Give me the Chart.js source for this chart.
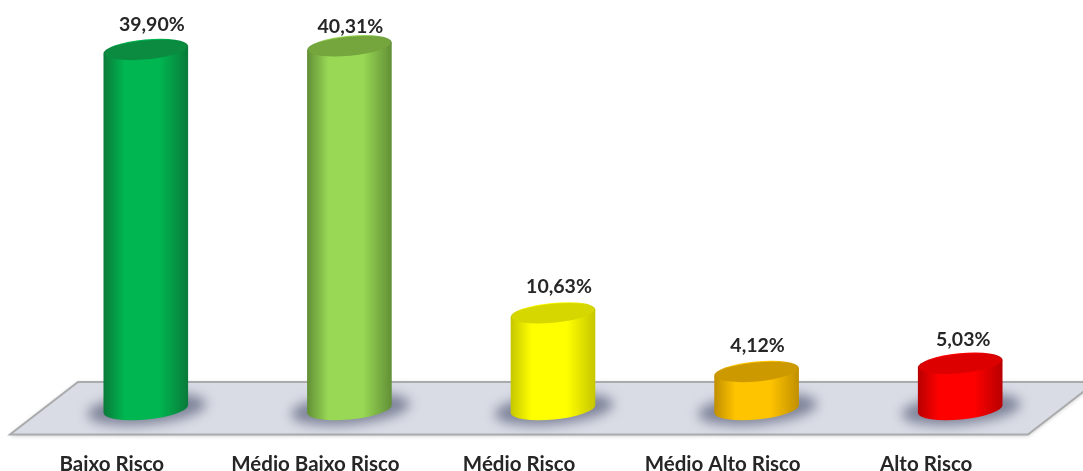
<!DOCTYPE html>
<html>
<head>
<meta charset="utf-8">
<title>Risco</title>
<script src="https://cdn.jsdelivr.net/npm/chart.js@4"></script>
<style>
    body { margin: 0; background: #fff; }
    canvas { display: block; }
</style>
</head>
<body>
<canvas id="riskChart" width="1083" height="471"></canvas>
<script>
// Categorias e valores (%)
var categories = ['Baixo Risco', 'Médio Baixo Risco', 'Médio Risco', 'Médio Alto Risco', 'Alto Risco'];
var values = [39.90, 40.31, 10.63, 4.12, 5.03];
var valueLabels = ['39,90%', '40,31%', '10,63%', '4,12%', '5,03%'];

// Cores de cada cilindro
var midColors = ['#00b650', '#98d855', '#ffff00', '#ffc400', '#ff0000'];
var edgeColors = ['#0a7a3a', '#628f36', '#c6c600', '#c08f00', '#b80000'];
var topColors = ['#0a8b40', '#75a53d', '#d6d600', '#cc9a00', '#dc0000'];

// Deslocamento de cada rótulo em relação ao topo do cilindro
var labelDx = [6, 1, 6, 1, 3];
var labelDy = [-25, -19, -27, -26, -24];

var TILT = -5.4 * Math.PI / 180;
var RY = 10.5;

// Barra desenhada como cilindro inclinado
class CylinderElement extends Chart.BarElement {
    draw(ctx) {
        var p = this.getProps(['x', 'y', 'base', 'width']);
        var i = this.$context.index;
        var rx = p.width / 2;
        var dx = rx * Math.cos(TILT);
        var dy = rx * Math.sin(TILT);

        ctx.save();

        // sombra no piso
        ctx.save();
        ctx.filter = 'blur(6px)';
        ctx.fillStyle = 'rgba(105,110,135,0.8)';
        ctx.beginPath();
        ctx.ellipse(p.x + 1, p.base, rx + 17, RY + 5, TILT, 0, Math.PI * 2);
        ctx.fill();
        ctx.restore();

        // corpo
        var grad = ctx.createLinearGradient(p.x - dx, 0, p.x + dx, 0);
        grad.addColorStop(0, edgeColors[i]);
        grad.addColorStop(0.25, midColors[i]);
        grad.addColorStop(0.66, midColors[i]);
        grad.addColorStop(1, edgeColors[i]);
        ctx.fillStyle = grad;
        ctx.beginPath();
        ctx.moveTo(p.x - dx, p.y - dy);
        ctx.lineTo(p.x - dx, p.base - dy);
        ctx.ellipse(p.x, p.base, rx, RY, TILT, Math.PI, 0, true);
        ctx.lineTo(p.x + dx, p.y + dy);
        ctx.closePath();
        ctx.fill();
        ctx.beginPath();
        ctx.ellipse(p.x, p.y, rx, RY, TILT, 0, Math.PI * 2);
        ctx.fill();

        // tampa
        ctx.fillStyle = topColors[i];
        ctx.beginPath();
        ctx.ellipse(p.x, p.y, rx - 1, RY - 1, TILT, 0, Math.PI * 2);
        ctx.fill();

        ctx.restore();
    }
}
CylinderElement.id = 'cylinder';
CylinderElement.defaults = Chart.BarElement.defaults;

class CylinderController extends Chart.BarController {}
CylinderController.id = 'cylinder';
CylinderController.defaults = Object.assign({}, Chart.BarController.defaults, { dataElementType: 'cylinder' });
CylinderController.overrides = Chart.BarController.overrides;

Chart.register(CylinderElement, CylinderController);

// Piso cinza por baixo das barras
var floorPlugin = {
    id: 'floor',
    beforeDatasetsDraw: function (chart) {
        var ctx = chart.ctx;
        var a = chart.chartArea;
        ctx.save();
        ctx.beginPath();
        ctx.moveTo(a.left + 34, a.bottom - 27);
        ctx.lineTo(a.right + 34, a.bottom - 27);
        ctx.lineTo(a.right - 34, a.bottom + 25.5);
        ctx.lineTo(a.left - 34, a.bottom + 25.5);
        ctx.closePath();
        ctx.shadowColor = 'rgba(0,0,0,0.25)';
        ctx.shadowBlur = 4;
        ctx.shadowOffsetY = 1;
        ctx.fillStyle = '#d9dce5';
        ctx.fill();
        ctx.shadowColor = 'transparent';
        ctx.lineWidth = 2;
        ctx.strokeStyle = '#aaabad';
        ctx.stroke();
        ctx.restore();
    }
};

// Rótulos de valor acima de cada cilindro
var valueLabelPlugin = {
    id: 'valueLabels',
    afterDatasetsDraw: function (chart) {
        var ctx = chart.ctx;
        ctx.save();
        ctx.font = 'bold 19.5px Lato';
        ctx.fillStyle = '#262626';
        ctx.textAlign = 'center';
        ctx.textBaseline = 'middle';
        chart.getDatasetMeta(0).data.forEach(function (bar, i) {
            ctx.fillText(valueLabels[i], bar.x + labelDx[i], bar.y + labelDy[i]);
        });
        ctx.restore();
    }
};

new Chart(document.getElementById('riskChart').getContext('2d'), {
    type: 'cylinder',
    data: {
        labels: categories,
        datasets: [{
            data: values,
            backgroundColor: midColors,
            barThickness: 85,
            clip: false
        }]
    },
    plugins: [floorPlugin, valueLabelPlugin],
    options: {
        responsive: false,
        animation: false,
        layout: { padding: { left: 44, right: 21, top: 4, bottom: 0 } },
        plugins: { legend: { display: false }, tooltip: { enabled: false } },
        scales: {
            x: {
                grid: { display: false },
                border: { display: false },
                afterFit: function (scale) { scale.height = 62; },
                ticks: {
                    padding: 35,
                    labelOffset: -34,
                    maxRotation: 0,
                    autoSkip: false,
                    color: '#262626',
                    font: { family: 'Lato', weight: 'bold', size: 20.5 }
                }
            },
            y: { display: false, min: 0, max: 45 }
        }
    }
});
</script>
</body>
</html>
